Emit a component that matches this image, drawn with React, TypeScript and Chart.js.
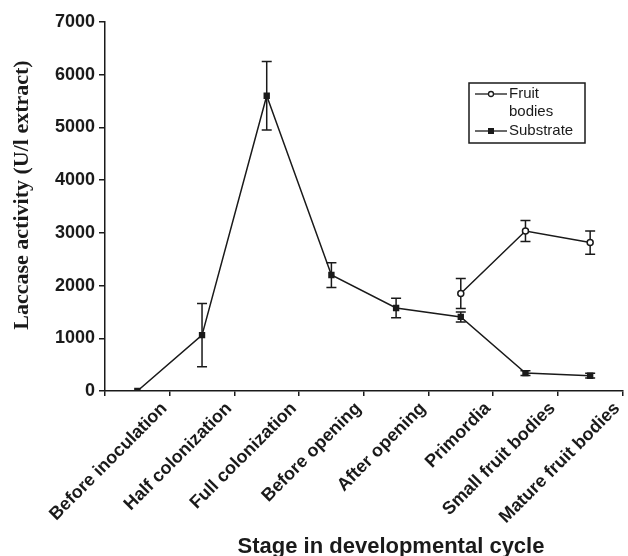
import React, { useEffect, useRef } from "react";
import { Chart, registerables } from "chart.js";

Chart.register(...registerables);

const categories = [
  "Before inoculation",
  "Half colonization",
  "Full colonization",
  "Before opening",
  "After opening",
  "Primordia",
  "Small fruit bodies",
  "Mature fruit bodies",
];

const substrateValues = [0, 1060, 5600, 2200, 1575, 1405, 340, 290];
const substrateErrors = [0, 600, 650, 235, 185, 95, 45, 45];

const fruitValues = [null, null, null, null, null, 1850, 3035, 2815];
const fruitErrors = [0, 0, 0, 0, 0, 285, 200, 220];

const fruitLegend = ["Fruit", "bodies"];
const substrateLegend = ["Substrate"];

const yTitle = "Laccase activity (U/l extract)";
const xTitle = "Stage in developmental cycle";
const yMin = 0;
const yMax = 7000;
const yStep = 1000;

const INK = "#1a1a1a";

const errorBarPlugin = {
  id: "errorBars",
  beforeDatasetsDraw(chart: any) {
    const ctx = chart.ctx;
    const y = chart.scales.y;
    chart.data.datasets.forEach((ds: any, i: number) => {
      const meta = chart.getDatasetMeta(i);
      const errs = ds.errors as number[];
      if (!errs) return;
      meta.data.forEach((pt: any, j: number) => {
        const v = ds.data[j];
        const e = errs[j];
        if (v == null || !e) return;
        const x = pt.x;
        const top = y.getPixelForValue(v + e);
        const bot = y.getPixelForValue(v - e);
        ctx.save();
        ctx.strokeStyle = INK;
        ctx.lineWidth = 1.5;
        ctx.beginPath();
        ctx.moveTo(x, top);
        ctx.lineTo(x, bot);
        ctx.moveTo(x - 5, top);
        ctx.lineTo(x + 5, top);
        ctx.moveTo(x - 5, bot);
        ctx.lineTo(x + 5, bot);
        ctx.stroke();
        ctx.restore();
      });
    });
  },
};

const customLegendPlugin = {
  id: "customLegend",
  afterDraw(chart: any) {
    const ctx = chart.ctx;
    ctx.save();
    ctx.strokeStyle = INK;
    ctx.lineWidth = 1.5;
    ctx.strokeRect(469, 83, 116, 60);
    ctx.font = "15px 'Liberation Sans', Arial, sans-serif";
    ctx.fillStyle = INK;
    ctx.textBaseline = "middle";
    const rows = [
      { lines: fruitLegend, y: 94, kind: "circle" },
      { lines: substrateLegend, y: 131, kind: "rect" },
    ];
    rows.forEach((r) => {
      ctx.beginPath();
      ctx.lineWidth = 1.3;
      ctx.moveTo(475, r.y);
      ctx.lineTo(507, r.y);
      ctx.stroke();
      if (r.kind === "circle") {
        ctx.beginPath();
        ctx.arc(491, r.y, 2.5, 0, Math.PI * 2);
        ctx.fillStyle = "#fff";
        ctx.fill();
        ctx.stroke();
      } else {
        ctx.fillStyle = INK;
        ctx.fillRect(488, r.y - 3, 6, 6);
      }
      ctx.fillStyle = INK;
      r.lines.forEach((t, k) => {
        ctx.fillText(t, 509, r.y + k * 18);
      });
    });
    ctx.restore();
  },
};

const titlesPlugin = {
  id: "axisTitles",
  afterDraw(chart: any) {
    const ctx = chart.ctx;
    ctx.save();
    ctx.font = "bold 22px 'Liberation Sans', Arial, sans-serif";
    ctx.fillStyle = INK;
    ctx.textAlign = "center";
    ctx.textBaseline = "alphabetic";
    ctx.fillText(xTitle, 391, 553);
    ctx.translate(22, 195);
    ctx.rotate(-Math.PI / 2);
    ctx.textBaseline = "middle";
    ctx.font = "bold 22px 'Liberation Serif', 'Times New Roman', serif";
    ctx.fillText(yTitle, 0, 0);
    ctx.restore();
  },
};

export default function App() {
  const ref = useRef<HTMLCanvasElement>(null);
  useEffect(() => {
    if (!ref.current) return;
    const chart = new Chart(ref.current, {
      type: "line",
      data: {
        labels: categories,
        datasets: [
          {
            label: "Fruit bodies",
            data: fruitValues as any,
            errors: fruitErrors,
            borderColor: INK,
            borderWidth: 1.5,
            pointStyle: "circle",
            pointRadius: 3,
            pointBorderWidth: 1.5,
            pointBackgroundColor: "#fff",
            pointBorderColor: INK,
            spanGaps: false,
            tension: 0,
          } as any,
          {
            label: "Substrate",
            data: substrateValues,
            errors: substrateErrors,
            borderColor: INK,
            borderWidth: 1.5,
            pointStyle: "rect",
            pointRadius: 4.5,
            pointBorderWidth: 0,
            pointBackgroundColor: INK,
            pointBorderColor: INK,
            tension: 0,
          } as any,
        ],
      },
      options: {
        animation: false,
        responsive: false,
        devicePixelRatio: 1,
        layout: { padding: { top: 22, left: 0, right: 0, bottom: 0 } },
        plugins: {
          legend: { display: false },
          tooltip: { enabled: false },
        },
        scales: {
          x: {
            type: "category",
            offset: true,
            grid: {
              offset: true,
              drawOnChartArea: false,
              drawTicks: true,
              tickLength: 5,
              color: INK,
              lineWidth: 1.5,
            },
            border: { display: true, color: INK, width: 1.5 },
            ticks: {
              autoSkip: false,
              minRotation: 45,
              maxRotation: 45,
              labelOffset: 27,
              padding: 2,
              color: INK,
              font: { family: "'Liberation Sans', Arial, sans-serif", size: 18, weight: "bold" },
            },
            afterFit(scale: any) {
              scale.height = 165;
            },
          },
          y: {
            min: yMin,
            max: yMax,
            grid: {
              drawOnChartArea: false,
              drawTicks: true,
              tickLength: 6,
              color: INK,
              lineWidth: 1.5,
            },
            border: { display: true, color: INK, width: 1.5 },
            ticks: {
              stepSize: yStep,
              padding: 4,
              color: INK,
              callback: (v: any) => String(v),
              font: { family: "'Liberation Sans', Arial, sans-serif", size: 18, weight: "bold" },
            },
            afterFit(scale: any) {
              scale.width = 105;
            },
          },
        },
      },
      plugins: [errorBarPlugin, customLegendPlugin, titlesPlugin],
    });
    return () => chart.destroy();
  }, []);
  return (
    <div style={{ position: "absolute", left: 0, top: 0, width: 628, height: 556, background: "#fff" }}>
      <canvas ref={ref} width={628} height={556} />
    </div>
  );
}
